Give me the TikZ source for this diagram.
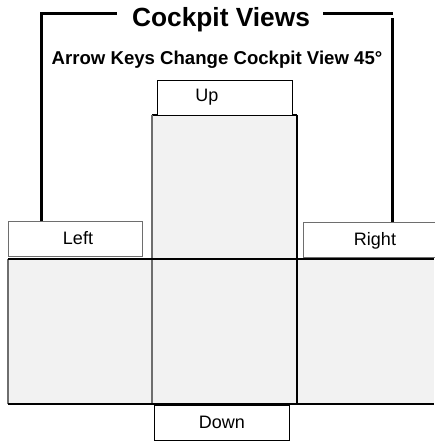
\documentclass[tikz,border=0pt]{standalone}
\usepackage{fontspec}
\setmainfont{Liberation Sans}
\begin{document}
\begin{tikzpicture}[x=1pt,y=-1pt,
  fillgray/.style={fill={rgb,255:red,242;green,242;blue,242}},
  boxline/.style={line width=1.3pt},
  keybox/.style={draw, boxline, fill=white, rectangle, inner sep=0pt, anchor=north west},
  bracket/.style={draw, line width=3pt},
  lbl/.style={anchor=base, inner sep=0pt, font=\fontsize{18}{20}\selectfont},
  midgray/.style={draw={rgb,255:red,110;green,110;blue,110}}
]
\useasboundingbox (0,0) rectangle (434,441);
% grey view panels
\path[fillgray] (152,115) rectangle (297,404);
\path[fillgray] (8,259) rectangle (434,404);
\draw[boxline] (152,115) -- (297,115);
\draw[boxline,midgray] (8,259) -- (8,404);
\draw[boxline,midgray] (152,115) -- (152,404);
\draw[boxline] (297,115) -- (297,404);
\draw[boxline] (8,259) -- (434,259);
\draw[boxline] (8,404) -- (434,404);
% key boxes
\node[keybox, minimum width=135, minimum height=35] (up) at (157,80) {};
\node[keybox, midgray, minimum width=134, minimum height=35] (left) at (8,221) {};
\node[keybox, midgray, minimum width=135, minimum height=35] (right) at (303,222) {};
\node[keybox, minimum width=135, minimum height=35] (down) at (154,405) {};
% labels
\node[lbl] (uptxt) at (207,102) {Up};
\node[lbl] (lefttxt) at (78,244) {Left};
\node[lbl] (righttxt) at (375,245) {Right};
\node[lbl] (downtxt) at (222,428) {Down};
% titles
\node[anchor=base, inner sep=0pt, font=\bfseries\fontsize{26.3}{29}\selectfont] (title) at (221,27) {Cockpit Views};
\node[anchor=base, inner sep=0pt, font=\bfseries\fontsize{18.6}{21}\selectfont] (sub) at (217,65) {Arrow Keys Change Cockpit View 45°};
% brackets
\coordinate (lc) at (41,14);
\coordinate (le) at (117,14);
\coordinate (rs) at (323,14);
\coordinate (rc) at (393,14);
\coordinate (rv) at (392,18);
\draw[bracket] (left.north west -| lc) -- (lc) -- (le);
\draw[bracket] (rs) -- (rc);
\draw[bracket] (right.north west -| rv) -- (rv);
\end{tikzpicture}
\end{document}
